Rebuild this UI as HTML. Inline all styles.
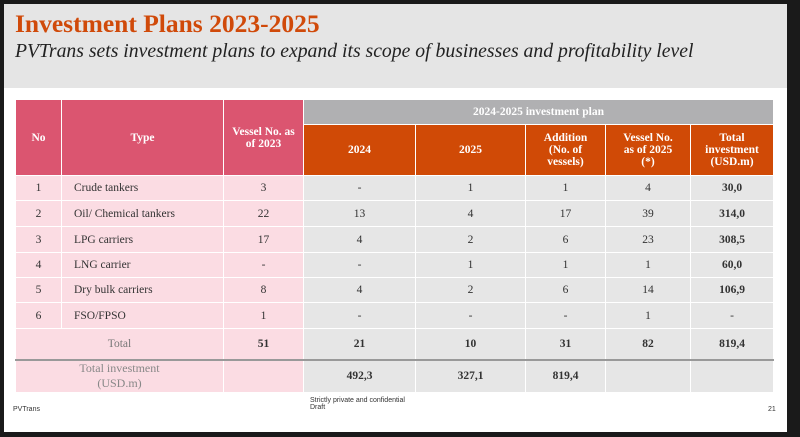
<!DOCTYPE html>
<html><head><style>
body{margin:0;width:800px;height:437px;background:#1a1a1a;overflow:hidden;font-family:"Liberation Serif",serif;}
#s{position:absolute;left:4px;top:4px;width:783px;height:428px;background:#fff;}
#hd{position:absolute;left:0;top:0;width:783px;height:84px;background:#e5e5e5;}
h1{position:absolute;left:11px;top:5px;margin:0;font-size:25.5px;color:#d04a0a;font-weight:bold;}
h2{position:absolute;left:11px;top:36px;margin:0;font-size:19.7px;color:#222;font-style:italic;font-weight:normal;}
table{position:absolute;left:11px;top:95px;border-collapse:collapse;table-layout:fixed;font-size:11.5px;color:#333;}
td{border:1.5px solid #fff;text-align:center;padding:0;}
.p{background:#fbdce3;}.g{background:#e6e6e6;}
.ph{background:#db5570;color:#fff;font-weight:bold;}
.oh{background:#d04a06;color:#fff;font-weight:bold;}
.gh{background:#b0b0b2;color:#fff;font-weight:bold;}
.l{text-align:left;padding-left:12px;}
.b{font-weight:bold;}
.ft{position:absolute;font-family:"Liberation Sans",sans-serif;font-size:7px;color:#333;}
</style></head><body>
<div id="s">
<div id="hd"></div>
<h1>Investment Plans 2023-2025</h1>
<h2>PVTrans sets investment plans to expand its scope of businesses and profitability level</h2>
<table>
<colgroup><col style="width:46px"><col style="width:162px"><col style="width:80px"><col style="width:112px"><col style="width:110px"><col style="width:80px"><col style="width:85px"><col style="width:83px"></colgroup>
<tr style="height:25px"><td class="ph" rowspan="2">No</td><td class="ph" rowspan="2">Type</td><td class="ph" rowspan="2">Vessel No. as<br>of 2023</td><td class="gh" colspan="5">2024-2025 investment plan</td></tr>
<tr style="height:51px"><td class="oh">2024</td><td class="oh">2025</td><td class="oh">Addition<br>(No. of<br>vessels)</td><td class="oh">Vessel No.<br>as of 2025<br>(*)</td><td class="oh">Total<br>investment<br>(USD.m)</td></tr>
<tr style="height:25px"><td class="p">1</td><td class="p l">Crude tankers</td><td class="p">3</td><td class="g">-</td><td class="g">1</td><td class="g">1</td><td class="g">4</td><td class="g b">30,0</td></tr>
<tr style="height:26px"><td class="p">2</td><td class="p l">Oil/ Chemical tankers</td><td class="p">22</td><td class="g">13</td><td class="g">4</td><td class="g">17</td><td class="g">39</td><td class="g b">314,0</td></tr>
<tr style="height:26px"><td class="p">3</td><td class="p l">LPG carriers</td><td class="p">17</td><td class="g">4</td><td class="g">2</td><td class="g">6</td><td class="g">23</td><td class="g b">308,5</td></tr>
<tr style="height:25px"><td class="p">4</td><td class="p l">LNG carrier</td><td class="p">-</td><td class="g">-</td><td class="g">1</td><td class="g">1</td><td class="g">1</td><td class="g b">60,0</td></tr>
<tr style="height:25px"><td class="p">5</td><td class="p l">Dry bulk carriers</td><td class="p">8</td><td class="g">4</td><td class="g">2</td><td class="g">6</td><td class="g">14</td><td class="g b">106,9</td></tr>
<tr style="height:26px"><td class="p">6</td><td class="p l">FSO/FPSO</td><td class="p">1</td><td class="g">-</td><td class="g">-</td><td class="g">-</td><td class="g">1</td><td class="g">-</td></tr>
<tr style="height:31px;border-bottom:2px solid #999"><td class="p" colspan="2" style="color:#777">Total</td><td class="p b">51</td><td class="g b">21</td><td class="g b">10</td><td class="g b">31</td><td class="g b">82</td><td class="g b">819,4</td></tr>
<tr style="height:33px"><td class="p" colspan="2" style="color:#888;font-size:12px">Total investment<br>(USD.m)</td><td class="p"></td><td class="g b">492,3</td><td class="g b">327,1</td><td class="g b">819,4</td><td class="g"></td><td class="g"></td></tr>
</table>
<div class="ft" style="left:9px;top:402px">PVTrans</div>
<div class="ft" style="left:306px;top:393px">Strictly private and confidential<br>Draft</div>
<div class="ft" style="left:764px;top:402px">21</div>
</div>
</body></html>
